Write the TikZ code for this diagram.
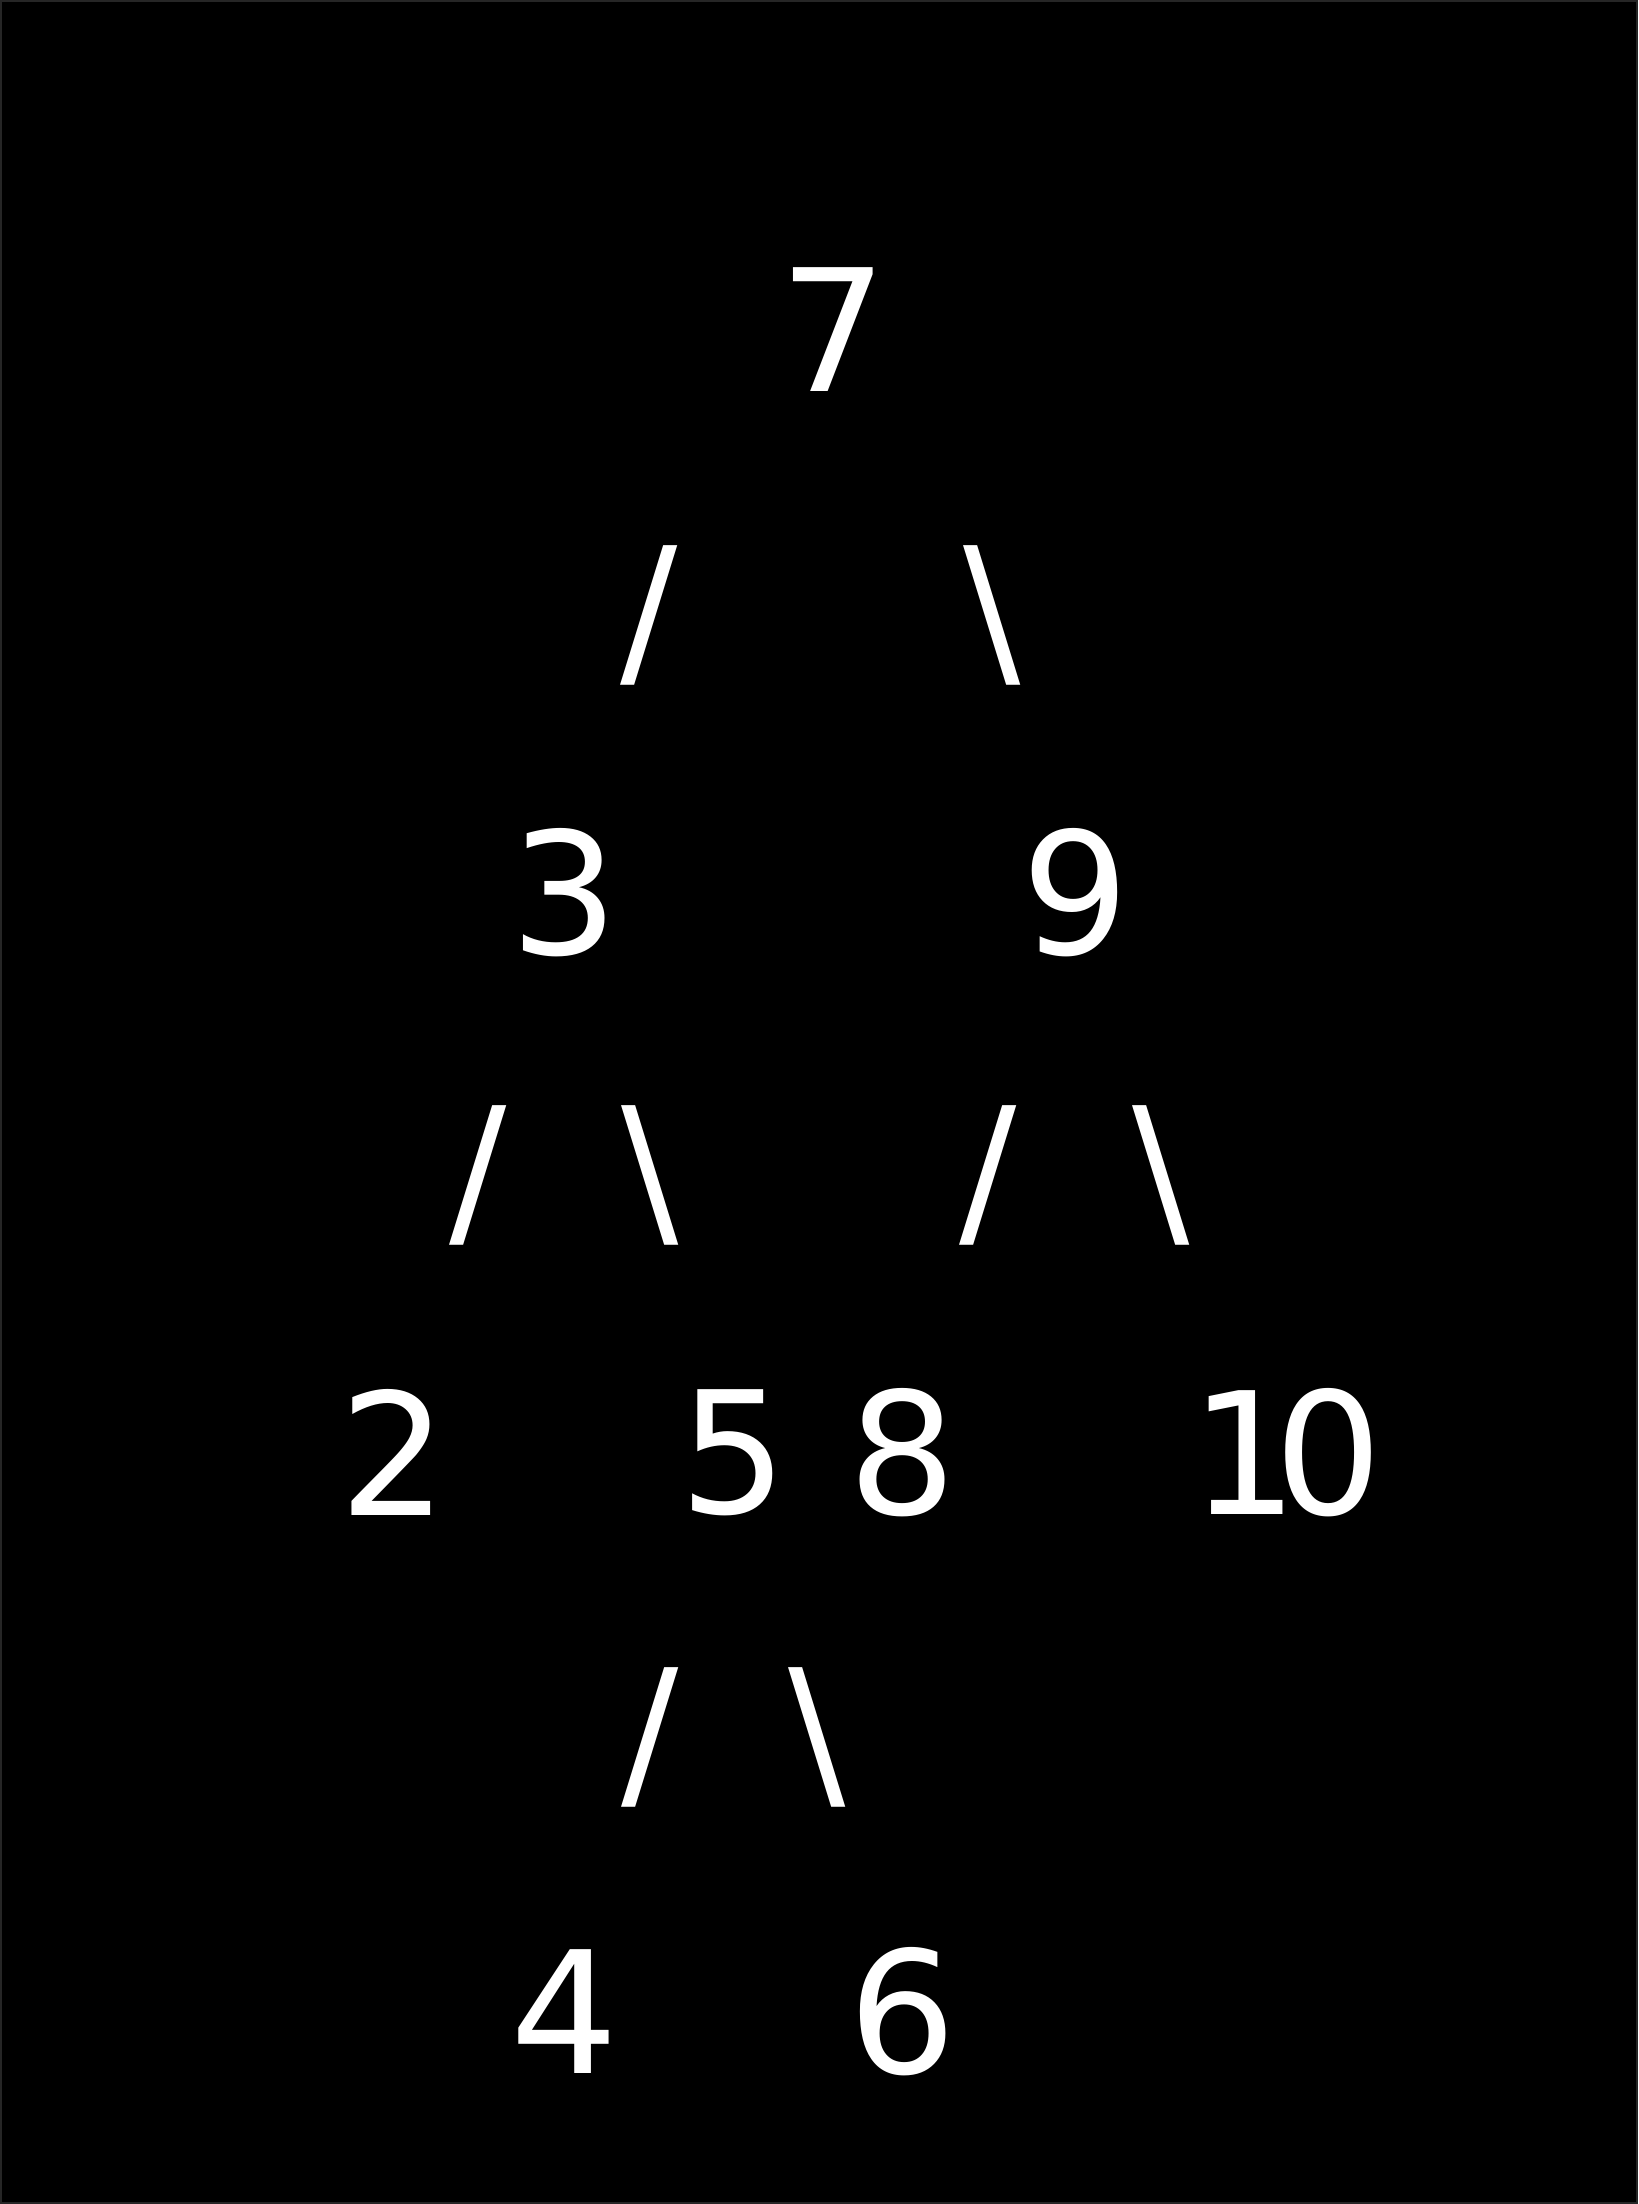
\documentclass[tikz,border=0pt]{standalone}
\usepackage{fontspec}
\setmainfont{DejaVu Sans}
\begin{document}
\begin{tikzpicture}[x=0.5pt,y=-0.5pt,
  glyph/.style={text=white,inner sep=0pt,outer sep=0pt,anchor=center,
    font=\fontsize{85}{100}\selectfont}]
\fill[black] (0,0) rectangle (1638,2204);
\draw[line width=1pt,draw=black!85!white] (0.5,0.5) rectangle (1637.5,2203.5);
\useasboundingbox (0,0) rectangle (1638,2204);
% row 0
\node[glyph] (n7) at (833,329) {7};
% row 1
\node[glyph] (s1) at (649,615) {/};
\node[glyph] (s2) at (992,615) {\textbackslash};
% row 2
\node[glyph] (n3) at (564,893) {3};
\node[glyph] (n9) at (1076,893) {9};
% row 3
\node[glyph] (s3) at (478,1175) {/};
\node[glyph] (s4) at (650,1175) {\textbackslash};
\node[glyph] (s5) at (988,1175) {/};
\node[glyph] (s6) at (1161,1175) {\textbackslash};
% row 4
\node[glyph] (n2) at (393,1453) {2};
\node[glyph] (n5) at (733,1453) {5};
\node[glyph] (n8) at (902,1453) {8};
\node[glyph] (n10) at (1287,1453) {1\kern-12pt0};
% row 5
\node[glyph] (s7) at (650,1738) {/};
\node[glyph] (s8) at (817,1738) {\textbackslash};
% row 6
\node[glyph] (n4) at (564,2012) {4};
\node[glyph] (n6) at (902,2012) {6};
\end{tikzpicture}
\end{document}
